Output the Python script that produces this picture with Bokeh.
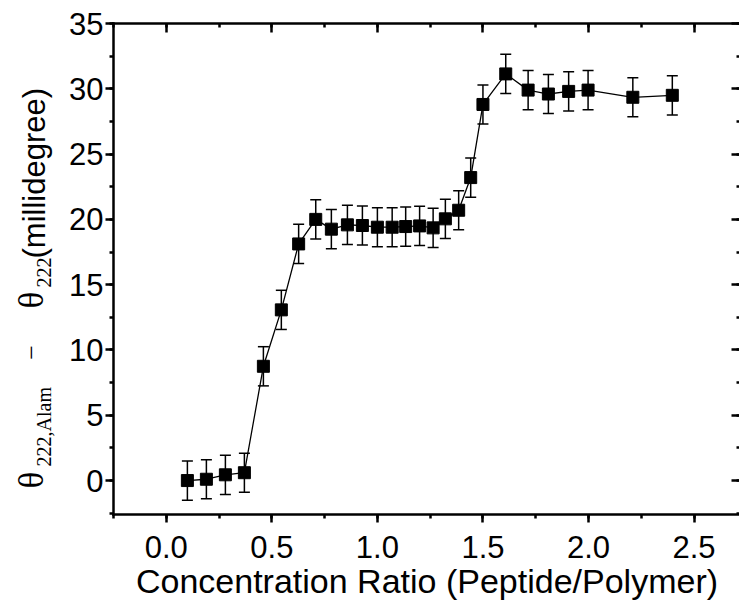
import math
from bokeh.plotting import figure
from bokeh.models import (ColumnDataSource, Whisker, TeeHead, LinearAxis, Range1d,
                          SingleIntervalTicker, PrintfTickFormatter,
                          CustomJSTickFormatter)
from bokeh.core.properties import value
from bokeh.embed import file_html
from bokeh.resources import INLINE

# ---- data ----
ratio = [0.10, 0.19, 0.28, 0.37, 0.46, 0.545, 0.627, 0.708, 0.782, 0.858,
         0.929, 1.00, 1.07, 1.134, 1.20, 1.264, 1.322, 1.385, 1.442, 1.50,
         1.608, 1.714, 1.81, 1.906, 1.998, 2.21, 2.397]
delta = [0.0, 0.1, 0.44, 0.6, 8.75, 13.07, 18.12, 20.0, 19.25, 19.58,
         19.53, 19.4, 19.4, 19.45, 19.5, 19.35, 20.04, 20.7, 23.2, 28.8,
         31.14, 29.9, 29.6, 29.8, 29.9, 29.35, 29.5]
err = [1.5, 1.5, 1.5, 1.5, 1.5, 1.5, 1.5, 1.5, 1.5, 1.5,
       1.5, 1.5, 1.5, 1.5, 1.5, 1.5, 1.5, 1.5, 1.5, 1.5,
       1.5, 1.5, 1.5, 1.5, 1.5, 1.5, 1.5]

x_label = "Concentration Ratio (Peptide/Polymer)"
y_label_parts = ["θ", "222,Alam", "−", "θ", "222", "(millidegree)"]

# axis extents (data units)
X0, X1 = -0.25, 2.72
Y0, Y1 = -2.6, 35.0

src = ColumnDataSource(dict(
    x=ratio, y=delta,
    lo=[d - e for d, e in zip(delta, err)],
    hi=[d + e for d, e in zip(delta, err)],
))

# ---- layout: the frame covers the whole canvas, axes are pinned inside ----
W, H = 739, 606
FRAME_L, FRAME_T, FRAME_R, FRAME_B = 113, 23, 740, 514   # pixel box of the axes
PXX = (FRAME_R - FRAME_L) / (X1 - X0)
PXY = (FRAME_B - FRAME_T) / (Y1 - Y0)
XL = X0 - FRAME_L / PXX
XR = XL + W / PXX
YT = Y1 + FRAME_T / PXY
YB = YT - H / PXY
BASE_SHIFT = 0.33   # measured offset of the drawn baseline, in em


def at(px, py):
    """pixel position (from top-left) -> data coordinates"""
    return XL + px / PXX, YT - py / PXY


SANS = "Liberation Sans"
SERIF = "Liberation Serif"

p = figure(width=W, height=H, x_range=Range1d(XL, XR), y_range=Range1d(YB, YT),
           output_backend="svg", toolbar_location=None,
           min_border=0, min_border_left=0, min_border_right=0,
           min_border_top=0, min_border_bottom=0)
p.grid.visible = False
p.outline_line_color = None
p.background_fill_color = "white"
p.border_fill_color = "white"


def style(ax, interval, inward):
    ax.ticker = SingleIntervalTicker(interval=interval, num_minor_ticks=2)
    ax.axis_line_width = 2.5
    ax.axis_line_color = "black"
    ax.axis_line_cap = "square"
    ax.major_tick_line_width = 2.5
    ax.minor_tick_line_width = 2.5
    ax.major_tick_line_color = "black"
    ax.minor_tick_line_color = "black"
    if inward:
        ax.major_tick_in = 9
        ax.major_tick_out = 0
        ax.minor_tick_in = 4
        ax.minor_tick_out = 0
        ax.formatter = CustomJSTickFormatter(code="return ''")
        ax.major_label_standoff = 0
    else:
        ax.major_tick_in = 0
        ax.major_tick_out = 8
        ax.minor_tick_in = 0
        ax.minor_tick_out = 4
        ax.major_label_text_font = SANS
        ax.major_label_text_font_size = "31px"
        ax.major_label_text_color = "black"


xa = p.xaxis[0]
style(xa, 0.5, False)
xa.formatter = PrintfTickFormatter(format="%.1f")
xa.major_label_standoff = 13
xa.fixed_location = Y0
xa.bounds = (X0, X1)

ya = p.yaxis[0]
style(ya, 5, False)
ya.major_label_standoff = 2
ya.fixed_location = X0
ya.bounds = (Y0, Y1)

top = LinearAxis(fixed_location=Y1, bounds=(X0, X1))
style(top, 0.5, True)
p.add_layout(top, "above")
right = LinearAxis(fixed_location=X1, bounds=(Y0, Y1))
style(right, 5, True)
p.add_layout(right, "right")

# ---- data marks ----
p.line("x", "y", source=src, line_color="black", line_width=1.3)
p.add_layout(Whisker(source=src, base="x", upper="hi", lower="lo",
                     line_color="black", line_width=1.5,
                     upper_head=TeeHead(size=11, line_color="black", line_width=1.5),
                     lower_head=TeeHead(size=11, line_color="black", line_width=1.5)))
p.scatter("x", "y", source=src, marker="square", size=12,
          fill_color="black", line_color="black")

# ---- x-axis title ----
XL_SIZE = 34
lx, ly = at((FRAME_L + FRAME_R) / 2, 592 - BASE_SHIFT * XL_SIZE)
p.text(x=[lx], y=[ly], text=[x_label], text_font=value(SANS),
       text_font_size=value(f"{XL_SIZE}px"), text_align="center",
       text_baseline="alphabetic", text_color="black")

# ---- rotated y-axis title, composed of pieces ----
# (text, x of baseline, y of start, font, size, align)
pieces = [
    (y_label_parts[0], 43, 488, SERIF, 35, "left"),
    (y_label_parts[1], 50, 466, SERIF, 20, "left"),
    (y_label_parts[2], 40, 352, SERIF, 26, "center"),
    (y_label_parts[3], 43, 308, SERIF, 35, "left"),
    (y_label_parts[4], 50, 287, SERIF, 20, "left"),
    (y_label_parts[5], 44, 258, SANS, 31, "left"),
]
for txt, px, py, font, size, align in pieces:
    dx, dy = at(px - BASE_SHIFT * size, py)
    p.text(x=[dx], y=[dy], text=[txt], angle=math.pi / 2,
           text_font=value(font), text_font_size=value(f"{size}px"),
           text_align=align, text_baseline="alphabetic", text_color="black")

open("out.html", "w").write(file_html(p, INLINE))
